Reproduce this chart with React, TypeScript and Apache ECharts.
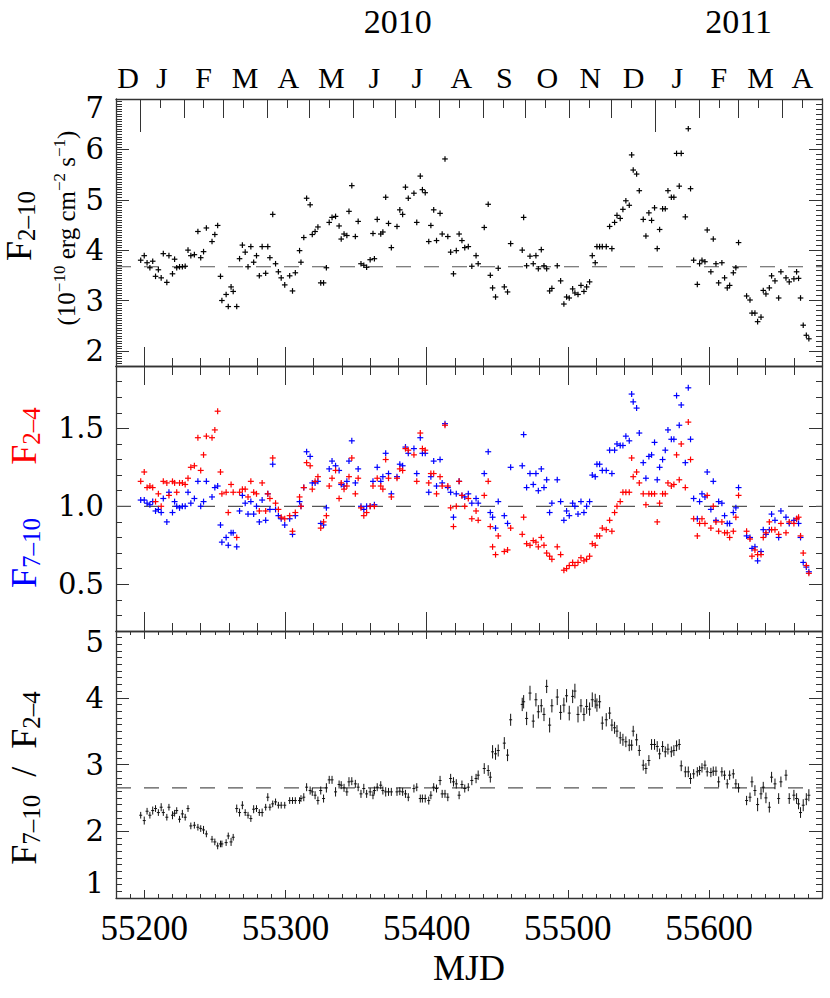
import React, { useEffect, useRef } from 'react';
import * as echarts from 'echarts';

// ---------------- data ----------------
const mjd = [
  55197.5, 55200, 55202, 55204, 55206, 55208, 55210, 55212, 55213.5, 55216,
  55217.5, 55220, 55221.5, 55223, 55225, 55227, 55229, 55231, 55233, 55235.5,
  55238, 55240, 55242, 55244, 55248, 55250, 55252, 55254, 55255, 55258,
  55259.5, 55261.5, 55263, 55265.5, 55267.5, 55269.5, 55271.5, 55273.5, 55275.5, 55277.5,
  55279.5, 55281.5, 55283.5, 55286, 55287.5, 55289, 55291, 55293, 55295, 55297,
  55299.5, 55303, 55305, 55307, 55310, 55311, 55313, 55315, 55317.5, 55319,
  55321, 55323, 55325, 55327, 55329, 55331, 55333, 55335.5, 55338, 55339.5,
  55341.5, 55343.5, 55345, 55347, 55349.5, 55351.5, 55353.5, 55355.5, 55357.5, 55360,
  55362, 55363, 55365, 55367.5, 55369, 55371, 55373, 55375, 55379, 55381,
  55383, 55385, 55387, 55391, 55393, 55395.5, 55397, 55399, 55401.5, 55403,
  55405, 55407, 55409.5, 55411, 55413, 55415, 55417, 55419, 55421, 55423,
  55425, 55427, 55429.5, 55432, 55435, 55436.5,
  55440.8, 55443.6, 55445.1, 55446.7, 55448.8, 55450.7, 55455, 55457.3, 55459.5, 55467.7,
  55468.7, 55470.8, 55473.2, 55475.5, 55477.4, 55479.1, 55481.2, 55483.1, 55485, 55487.1,
  55488.7, 55492.5, 55494.9, 55497.2, 55499.1, 55501, 55503.4, 55505, 55507.2, 55509.3,
  55511.4, 55513.3, 55515.4, 55517.3, 55519.4, 55520.6, 55522.5, 55524.4, 55527.2, 55529.6,
  55531.2, 55533.1, 55534.8, 55537.1, 55539, 55541.1, 55543.5, 55545.2, 55546.3, 55548.7,
  55550.6, 55553.4, 55555.3, 55557.4, 55559.3, 55561.4, 55563.3, 55565, 55567.1, 55569,
  55570.9, 55573.3, 55575.1, 55577, 55578.9, 55580.3, 55583.2, 55585.3, 55586.9, 55589.1,
  55591.7, 55593.3, 55595, 55597.1, 55598.7, 55601.3, 55603, 55604.9, 55606.8, 55609.1,
  55611, 55612.9, 55614.6, 55617.2, 55619, 55620.9, 55626.6, 55629, 55630.4, 55632.5,
  55634.4, 55636.8, 55638.4, 55640.3, 55642.7, 55644.3, 55646.7, 55649.3, 55650.9, 55654.5,
  55656.8, 55660.1, 55662, 55663.4, 55664.8, 55666.7, 55668.9, 55670.7,
];

// F(2-10 keV), 1e-10 erg cm^-2 s^-1
const flux210 = [
  3.80, 3.89, 3.75, 3.65, 3.78, 3.48, 3.61, 3.45, 3.93, 3.36,
  3.89, 3.53, 3.82, 3.65, 3.67, 3.67, 3.68, 4.00, 3.89, 3.91,
  4.37, 3.85, 3.97, 4.44, 4.17, 4.31, 4.49, 3.48, 3.00, 3.12,
  2.88, 3.27, 3.18, 2.88, 3.83, 4.10, 3.96, 3.67, 4.07, 3.76,
  3.89, 3.49, 4.07, 3.54, 4.07, 3.85, 4.71, 3.73, 3.57, 3.45,
  3.31, 3.49, 3.19, 3.55, 3.99, 3.76, 4.25, 5.03, 4.90, 4.31,
  4.37, 4.46, 3.35, 3.35, 3.65, 4.55, 4.65, 4.67, 4.48, 4.22,
  4.32, 4.29, 4.77, 5.28, 4.27, 4.57, 3.73, 3.70, 3.66, 3.81,
  4.33, 3.83, 4.61, 4.32, 4.36, 5.05, 4.53, 4.05, 4.47, 4.80,
  4.71, 5.25, 5.03, 5.13, 4.55, 5.47, 5.20, 5.14, 4.17, 4.49,
  4.80, 4.19, 4.73, 4.32, 5.81, 4.27, 3.96, 3.53, 3.99, 4.32,
  4.19, 4.05, 4.07, 3.68, 3.89, 3.73,
  4.45, 4.91, 3.50, 3.25, 3.07, 3.64, 3.27, 3.17, 4.13, 4.00,
  4.65, 3.69, 3.88, 3.73, 3.89, 3.63, 4.01, 3.69, 3.63, 3.19,
  3.24, 3.69, 3.39, 2.93, 3.07, 3.05, 3.23, 3.15, 3.12, 3.30,
  3.18, 3.27, 3.37, 3.89, 3.75, 4.07, 4.07, 4.07, 4.07, 4.47,
  4.03, 4.55, 4.69, 4.63, 4.81, 4.98, 4.89, 5.89, 5.59, 5.51,
  5.18, 4.61, 4.28, 4.74, 4.59, 4.84, 4.03, 4.41, 4.82, 4.82,
  5.18, 5.05, 5.05, 5.92, 5.27, 5.92, 4.66, 6.41, 5.22, 3.80,
  3.32, 3.73, 3.80, 3.77, 4.40, 3.57, 4.22, 3.73, 3.35, 3.75,
  3.45, 3.25, 3.30, 3.55, 3.65, 4.15, 3.09, 3.01, 2.75, 2.75,
  2.58, 2.67, 3.20, 3.13, 3.25, 3.49, 3.39, 3.05, 3.57, 3.45,
  3.37, 3.43, 3.57, 3.44, 3.05, 2.51, 2.31, 2.24,
];

// normalised F(2-4 keV) (red)
const flux24 = [
  1.16, 1.22, 1.12, 1.13, 1.12, 1.03, 1.08, 1.00, 1.16, 1.15,
  1.07, 1.16, 1.15, 1.09, 1.15, 1.15, 1.14, 1.18, 1.25, 1.26,
  1.44, 1.23, 1.33, 1.45, 1.44, 1.49, 1.61, 1.22, 1.08, 1.09,
  0.96, 1.14, 1.09, 0.80, 1.09, 1.11, 1.11, 1.06, 1.16, 1.09,
  1.08, 0.97, 1.15, 0.97, 1.08, 1.05, 1.31, 1.02, 0.98, 0.93,
  0.92, 0.94, 0.84, 0.96, 1.06, 1.00, 1.12, 1.28, 1.26, 1.11,
  1.16, 1.19, 0.86, 0.90, 0.94, 1.13, 1.18, 1.23, 1.05, 1.15,
  1.11, 1.13, 1.19, 1.31, 1.08, 1.18, 0.99, 0.94, 0.96, 1.00,
  1.13, 1.00, 1.18, 1.13, 1.11, 1.30, 1.18, 1.06, 1.18, 1.24,
  1.23, 1.37, 1.36, 1.33, 1.16, 1.47, 1.37, 1.36, 1.15, 1.21,
  1.21, 1.08, 1.19, 1.13, 1.52, 1.13, 0.99, 0.87, 1.00, 1.16,
  1.07, 1.00, 1.05, 0.92, 0.97, 0.91,
  1.07, 1.16, 0.87, 0.74, 0.69, 0.81, 0.71, 0.72, 0.86, 0.82,
  0.93, 0.76, 0.75, 0.78, 0.77, 0.74, 0.80, 0.75, 0.70, 0.68,
  0.66, 0.74, 0.69, 0.59, 0.60, 0.62, 0.64, 0.62, 0.64, 0.67,
  0.65, 0.66, 0.68, 0.76, 0.75, 0.81, 0.81, 0.86, 0.85, 0.91,
  0.84, 0.96, 1.00, 1.03, 1.09, 1.09, 1.09, 1.31, 1.19, 1.22,
  1.15, 1.08, 1.01, 1.08, 1.08, 1.08, 0.90, 1.02, 1.08, 1.08,
  1.15, 1.13, 1.14, 1.33, 1.17, 1.40, 1.12, 1.54, 1.30, 0.92,
  0.81, 0.89, 0.92, 0.89, 1.07, 0.86, 1.00, 0.90, 0.84, 0.90,
  0.83, 0.83, 0.80, 0.84, 0.93, 1.07, 0.84, 0.79, 0.68, 0.72,
  0.69, 0.69, 0.80, 0.83, 0.90, 0.85, 0.85, 0.82, 0.89, 0.83,
  0.90, 0.89, 0.92, 0.93, 0.81, 0.70, 0.62, 0.57,
];

// normalised F(7-10 keV) (blue)
const flux710 = [
  1.04, 1.04, 1.02, 1.01, 1.03, 0.97, 0.98, 0.96, 1.05, 0.90,
  1.09, 0.96, 1.03, 1.00, 0.99, 1.00, 1.00, 1.09, 1.02, 1.05,
  1.16, 1.00, 1.03, 1.16, 1.06, 1.12, 1.13, 0.88, 0.77, 0.80,
  0.75, 0.83, 0.83, 0.74, 0.97, 1.07, 1.02, 0.95, 1.03, 0.95,
  1.00, 0.90, 1.04, 0.91, 1.08, 0.98, 1.27, 0.98, 0.94, 0.92,
  0.88, 0.92, 0.82, 0.94, 1.03, 1.00, 1.12, 1.35, 1.32, 1.15,
  1.15, 1.16, 0.89, 0.88, 0.99, 1.24, 1.29, 1.26, 1.23, 1.14,
  1.13, 1.16, 1.29, 1.42, 1.15, 1.24, 1.00, 0.98, 1.00, 1.00,
  1.16, 1.01, 1.25, 1.16, 1.19, 1.34, 1.21, 1.08, 1.19, 1.27,
  1.26, 1.38, 1.34, 1.37, 1.21, 1.44, 1.34, 1.34, 1.09, 1.19,
  1.29, 1.13, 1.30, 1.15, 1.53, 1.12, 1.09, 0.93, 1.08, 1.16,
  1.07, 1.06, 1.08, 1.02, 1.05, 1.02,
  1.21, 1.35, 0.96, 0.93, 0.86, 1.03, 0.94, 0.89, 1.25, 1.26,
  1.46, 1.12, 1.21, 1.14, 1.21, 1.10, 1.24, 1.12, 1.17, 0.96,
  1.02, 1.17, 1.03, 0.91, 0.97, 0.94, 1.02, 1.00, 0.95, 1.03,
  0.96, 1.00, 1.03, 1.20, 1.19, 1.27, 1.27, 1.23, 1.23, 1.36,
  1.21, 1.36, 1.40, 1.39, 1.39, 1.45, 1.42, 1.72, 1.67, 1.63,
  1.47, 1.28, 1.18, 1.32, 1.33, 1.41, 1.17, 1.25, 1.30, 1.36,
  1.49, 1.43, 1.43, 1.71, 1.52, 1.65, 1.28, 1.76, 1.43, 1.05,
  0.92, 1.03, 1.08, 1.06, 1.22, 0.98, 1.16, 0.91, 1.03, 1.02,
  0.94, 0.89, 0.89, 0.96, 0.99, 1.12, 0.81, 0.80, 0.73, 0.74,
  0.65, 0.71, 0.85, 0.82, 0.85, 0.95, 0.91, 0.80, 0.97, 0.93,
  0.89, 0.91, 0.92, 0.89, 0.80, 0.64, 0.61, 0.58,
];

// hardness ratio F(7-10)/F(2-4)
const ratio = [
  2.24, 2.16, 2.30, 2.24, 2.31, 2.34, 2.28, 2.36, 2.28, 2.21,
  2.36, 2.24, 2.27, 2.31, 2.18, 2.26, 2.21, 2.34, 2.08, 2.09,
  2.06, 2.04, 2.02, 1.96, 1.88, 1.84, 1.78, 1.81, 1.81, 1.83,
  1.93, 1.84, 1.91, 2.34, 2.28, 2.39, 2.28, 2.24, 2.19, 2.33,
  2.34, 2.28, 2.28, 2.36, 2.51, 2.36, 2.41, 2.44, 2.39, 2.39,
  2.39, 2.46, 2.46, 2.46, 2.46, 2.49, 2.51, 2.66, 2.61, 2.59,
  2.54, 2.46, 2.61, 2.49, 2.65, 2.77, 2.77, 2.59, 2.70, 2.69,
  2.65, 2.59, 2.74, 2.75, 2.71, 2.66, 2.56, 2.64, 2.56, 2.59,
  2.54, 2.61, 2.66, 2.69, 2.61, 2.59, 2.59, 2.59, 2.59, 2.60,
  2.59, 2.56, 2.51, 2.64, 2.66, 2.49, 2.49, 2.49, 2.46, 2.54,
  2.66, 2.64, 2.76, 2.56, 2.56, 2.51, 2.79, 2.74, 2.71, 2.54,
  2.70, 2.64, 2.66, 2.76, 2.79, 2.84,
  2.94, 2.91, 2.81, 3.19, 3.16, 3.21, 3.32, 3.14, 3.67, 3.90,
  3.94, 3.69, 4.07, 3.65, 3.97, 3.79, 3.88, 3.75, 4.17, 3.59,
  3.88, 4.01, 3.78, 3.89, 4.03, 3.77, 4.02, 4.10, 3.75, 3.88,
  3.75, 3.87, 3.83, 3.97, 3.95, 3.89, 3.94, 3.62, 3.67, 3.77,
  3.59, 3.55, 3.50, 3.40, 3.37, 3.34, 3.29, 3.29, 3.50, 3.37,
  3.21, 2.99, 2.94, 3.06, 3.30, 3.30, 3.27, 3.16, 3.27, 3.19,
  3.23, 3.19, 3.21, 3.28, 3.30, 2.98, 2.89, 2.89, 2.79, 2.86,
  2.89, 2.91, 2.95, 2.99, 2.89, 2.88, 2.90, 2.90, 2.74, 2.89,
  2.84, 2.71, 2.84, 2.86, 2.71, 2.65, 2.46, 2.51, 2.74, 2.61,
  2.40, 2.56, 2.66, 2.50, 2.36, 2.81, 2.71, 2.49, 2.74, 2.84,
  2.49, 2.54, 2.49, 2.41, 2.28, 2.39, 2.48, 2.54,
];

// half-length of the ratio error bars
const ratioErr = [
  0.05, 0.06, 0.05, 0.05, 0.06, 0.05, 0.05, 0.06, 0.05, 0.05,
  0.05, 0.06, 0.05, 0.05, 0.05, 0.06, 0.05, 0.05, 0.05, 0.05,
  0.05, 0.05, 0.06, 0.05, 0.05, 0.05, 0.05, 0.05, 0.05, 0.05,
  0.05, 0.06, 0.05, 0.06, 0.06, 0.06, 0.05, 0.05, 0.05, 0.06,
  0.05, 0.05, 0.06, 0.05, 0.06, 0.05, 0.05, 0.05, 0.05, 0.05,
  0.05, 0.05, 0.05, 0.05, 0.05, 0.05, 0.06, 0.06, 0.06, 0.06,
  0.06, 0.06, 0.06, 0.06, 0.07, 0.06, 0.06, 0.07, 0.06, 0.06,
  0.06, 0.06, 0.07, 0.06, 0.06, 0.06, 0.06, 0.07, 0.06, 0.06,
  0.06, 0.06, 0.06, 0.06, 0.06, 0.07, 0.06, 0.06, 0.06, 0.06,
  0.06, 0.06, 0.06, 0.06, 0.06, 0.06, 0.06, 0.06, 0.06, 0.06,
  0.06, 0.06, 0.07, 0.06, 0.06, 0.06, 0.07, 0.07, 0.07, 0.06,
  0.06, 0.06, 0.06, 0.07, 0.07, 0.07,
  0.08, 0.08, 0.08, 0.10, 0.09, 0.09, 0.09, 0.09, 0.09, 0.10,
  0.10, 0.10, 0.11, 0.10, 0.10, 0.10, 0.10, 0.10, 0.10, 0.11,
  0.10, 0.12, 0.11, 0.11, 0.10, 0.11, 0.10, 0.11, 0.12, 0.10,
  0.10, 0.11, 0.10, 0.11, 0.11, 0.10, 0.10, 0.10, 0.10, 0.09,
  0.09, 0.09, 0.09, 0.09, 0.09, 0.08, 0.09, 0.08, 0.08, 0.09,
  0.08, 0.08, 0.08, 0.08, 0.08, 0.08, 0.08, 0.08, 0.08, 0.08,
  0.08, 0.08, 0.08, 0.08, 0.08, 0.08, 0.08, 0.08, 0.08, 0.07,
  0.07, 0.07, 0.07, 0.07, 0.07, 0.07, 0.07, 0.07, 0.08, 0.07,
  0.07, 0.07, 0.07, 0.07, 0.07, 0.07, 0.07, 0.07, 0.08, 0.08,
  0.10, 0.08, 0.08, 0.08, 0.08, 0.08, 0.08, 0.08, 0.08, 0.08,
  0.08, 0.08, 0.08, 0.08, 0.08, 0.09, 0.09, 0.09,
];

// reference (mean) levels, dashed
const F210_MEAN = 3.67;
const FNORM_MEAN = 1.0;
const RATIO_MEAN = 2.65;

// axes
const X_MIN = 55180;
const X_MAX = 55680;
const mjdTicks = [55200, 55300, 55400, 55500, 55600];
const f210Ticks = [2, 3, 4, 5, 6, 7];
const fNormTicks = [0.5, 1.0, 1.5];
const ratioTicks = [1, 2, 3, 4, 5];
const Y1 = [1.7, 7];
const Y2 = [0.2, 1.9];
const Y3 = [1, 5];

// calendar (MJD of 1st of month, Dec 2009 .. May 2011)
const monthStarts = [55166, 55197, 55228, 55256, 55287, 55317, 55348, 55378, 55409, 55440,
  55470, 55501, 55531, 55562, 55593, 55621, 55652, 55682];
const monthLetters = ['D', 'J', 'F', 'M', 'A', 'M', 'J', 'J', 'A', 'S', 'O', 'N', 'D', 'J', 'F', 'M', 'A'];
const yearStarts = [55197, 55562, 55927];
const yearLabels = ['2010', '2011'];

// ---------------- helpers ----------------
const AX = '#333';
const SERIF = 'Liberation Serif';
const TICKFONT = 'DejaVu Serif';

function steps(a: number, b: number, step: number) {
  const out: number[] = [];
  for (let k = Math.ceil(a / step - 1e-9); k * step <= b + 1e-9; k++) out.push(+(k * step).toFixed(4));
  return out;
}
const inRange = (v: number) => v > X_MIN && v < X_MAX;

const monthCenters = monthLetters.map((_, i) => {
  const a = Math.max(monthStarts[i], X_MIN);
  const b = Math.min(monthStarts[i + 1], X_MAX);
  return (a + b) / 2;
});
const yearCenters = yearLabels.map((_, i) => {
  const a = Math.max(yearStarts[i], X_MIN);
  const b = Math.min(yearStarts[i + 1], X_MAX);
  return (a + b) / 2;
});

function plus(color: string, h: number) {
  return (params: any, api: any) => {
    const p = api.coord([api.value(0), api.value(1)]);
    return {
      type: 'group',
      children: [
        { type: 'line', shape: { x1: p[0] - h, y1: p[1], x2: p[0] + h, y2: p[1] }, style: { stroke: color, lineWidth: 1.2 } },
        { type: 'line', shape: { x1: p[0], y1: p[1] - h, x2: p[0], y2: p[1] + h }, style: { stroke: color, lineWidth: 1.2 } },
      ],
    };
  };
}

function errBar(params: any, api: any) {
  const x = api.value(0);
  const p = api.coord([x, api.value(1)]);
  const lo = api.coord([x, api.value(2)]);
  const hi = api.coord([x, api.value(3)]);
  return {
    type: 'group',
    children: [
      { type: 'line', shape: { x1: p[0], y1: lo[1], x2: p[0], y2: hi[1] }, style: { stroke: '#111', lineWidth: 1 } },
      { type: 'line', shape: { x1: p[0] - 1.5, y1: p[1], x2: p[0] + 1.5, y2: p[1] }, style: { stroke: '#111', lineWidth: 1 } },
    ],
  };
}

function buildOption() {
  const xAxis: any[] = [];
  const yAxis: any[] = [];

  const xAx = (grid: number, pos: string, ticks: number[], len: number, line = false, label: any = null) => {
    xAxis.push({
      type: 'value', gridIndex: grid, position: pos, min: X_MIN, max: X_MAX,
      axisLine: { show: line, onZero: false, lineStyle: { color: AX, width: 1.3 } },
      axisTick: { show: true, inside: true, length: len, customValues: ticks, lineStyle: { color: AX, width: 1 } },
      axisLabel: label ? { show: true, color: '#000', ...label } : { show: false },
      splitLine: { show: false },
    });
    return xAxis.length - 1;
  };
  const yAx = (grid: number, pos: string, rng: number[], ticks: number[], len: number, line = false, label: any = null) => {
    yAxis.push({
      type: 'value', gridIndex: grid, position: pos, min: rng[0], max: rng[1],
      axisLine: { show: line, onZero: false, lineStyle: { color: AX, width: 1.3 } },
      axisTick: { show: true, inside: true, length: len, customValues: ticks, lineStyle: { color: AX, width: 1 } },
      axisLabel: label ? { show: true, color: '#000', ...label } : { show: false },
      splitLine: { show: false },
    });
    return yAxis.length - 1;
  };

  const minor20 = steps(X_MIN, X_MAX, 20).filter(inRange);
  const minor10 = steps(X_MIN, X_MAX, 10).filter(inRange);
  const monthTicks = monthStarts.filter(inRange);
  const midMonthTicks = monthStarts.map((s) => s + 14).filter(inRange);
  const yearTicks = yearStarts.filter(inRange);

  const yLabelBase = { fontFamily: TICKFONT, fontSize: 29, margin: 12 };

  // ----- grid 0 : F 2-10
  const gx0 = xAx(0, 'bottom', mjdTicks, 19, true);
  xAx(0, 'bottom', minor20, 8);
  xAx(0, 'top', yearTicks, 33, true, {
    customValues: yearCenters, margin: 61, fontFamily: SERIF, fontSize: 34,
    formatter: (v: number) => { const i = yearCenters.findIndex((c) => Math.abs(c - v) < 0.01); return i >= 0 ? yearLabels[i] : ''; },
  });
  xAx(0, 'top', monthTicks, 19, false, {
    customValues: monthCenters, margin: 7, fontFamily: SERIF, fontSize: 30,
    formatter: (v: number) => { const i = monthCenters.findIndex((c) => Math.abs(c - v) < 0.01); return i >= 0 ? monthLetters[i] : ''; },
  });
  xAx(0, 'top', midMonthTicks, 9);
  const gy0 = yAx(0, 'left', Y1, f210Ticks, 13, true, {
    ...yLabelBase, customValues: f210Ticks,
    formatter: (v: number) => (v === Y1[1] ? `{dn|${v}}` : String(v)),
    rich: { dn: { fontFamily: TICKFONT, fontSize: 29, padding: [18, 0, 0, 0] } },
  });
  yAx(0, 'left', Y1, steps(Y1[0], Y1[1], 0.05), 6);
  yAx(0, 'right', Y1, f210Ticks, 13, true);
  yAx(0, 'right', Y1, steps(Y1[0], Y1[1], 0.1), 6);

  // ----- grid 1 : normalised fluxes
  const gx1 = xAx(1, 'bottom', mjdTicks, 19, true);
  xAx(1, 'bottom', minor20, 8);
  xAx(1, 'top', mjdTicks, 19, true);
  xAx(1, 'top', minor20, 9);
  const gy1 = yAx(1, 'left', Y2, fNormTicks, 13, true, {
    ...yLabelBase, customValues: fNormTicks, formatter: (v: number) => v.toFixed(1),
  });
  yAx(1, 'left', Y2, steps(Y2[0], Y2[1], 0.1), 6);
  yAx(1, 'right', Y2, fNormTicks, 13, true);
  yAx(1, 'right', Y2, steps(Y2[0], Y2[1], 0.1), 6);

  // ----- grid 2 : ratio
  const gx2 = xAx(2, 'bottom', mjdTicks, 8, true, {
    customValues: mjdTicks, margin: 13, fontFamily: SERIF, fontSize: 35,
    formatter: (v: number) => String(Math.round(v)),
  });
  xAx(2, 'bottom', minor10, 4);
  xAx(2, 'top', mjdTicks, 8, true);
  xAx(2, 'top', minor10, 4);
  const gy2 = yAx(2, 'left', Y3, ratioTicks, 13, true, {
    ...yLabelBase, customValues: ratioTicks,
    formatter: (v: number) => (v === Y3[1] ? `{dn|${v}}` : v === Y3[0] ? `{up|${v}}` : String(v)),
    rich: {
      dn: { fontFamily: TICKFONT, fontSize: 29, padding: [22, 0, 0, 0] },
      up: { fontFamily: TICKFONT, fontSize: 29, padding: [0, 0, 30, 0] },
    },
  });
  yAx(2, 'left', Y3, steps(Y3[0], Y3[1], 0.1), 6);
  yAx(2, 'right', Y3, ratioTicks, 13, true);
  yAx(2, 'right', Y3, steps(Y3[0], Y3[1], 0.1), 6);

  const dashed = (xi: number, yi: number, level: number) => ({
    type: 'line', xAxisIndex: xi, yAxisIndex: yi, silent: true, symbol: 'none', z: 1,
    data: [[X_MIN, level], [X_MAX, level]],
    lineStyle: { color: '#555', width: 1.2, type: [15, 13] },
  });

  const subRich = (color: string) => ({
    F: { fontFamily: SERIF, fontSize: 36, lineHeight: 40, fill: color },
    s: { fontFamily: SERIF, fontSize: 25, lineHeight: 24, verticalAlign: 'bottom', fill: color },
  });

  return {
    animation: false,
    backgroundColor: '#ffffff',
    textStyle: { fontFamily: SERIF },
    grid: [
      { left: 116, top: 99, width: 706, height: 267, containLabel: false, outerBoundsMode: 'none' },
      { left: 116, top: 366, width: 706, height: 265, containLabel: false, outerBoundsMode: 'none' },
      { left: 116, top: 631, width: 706, height: 267, containLabel: false, outerBoundsMode: 'none' },
    ],
    xAxis,
    yAxis,
    series: [
      dashed(gx0, gy0, F210_MEAN),
      dashed(gx1, gy1, FNORM_MEAN),
      dashed(gx2, gy2, RATIO_MEAN),
      {
        type: 'custom', xAxisIndex: gx0, yAxisIndex: gy0, z: 3, encode: { x: 0, y: 1 },
        data: mjd.map((m, i) => [m, flux210[i]]), renderItem: plus('#000', 2.8),
      },
      {
        type: 'custom', xAxisIndex: gx1, yAxisIndex: gy1, z: 3, encode: { x: 0, y: 1 },
        data: mjd.map((m, i) => [m, flux710[i]]), renderItem: plus('#0000ff', 3),
      },
      {
        type: 'custom', xAxisIndex: gx1, yAxisIndex: gy1, z: 4, encode: { x: 0, y: 1 },
        data: mjd.map((m, i) => [m, flux24[i]]), renderItem: plus('#ff0000', 3),
      },
      {
        type: 'custom', xAxisIndex: gx2, yAxisIndex: gy2, z: 3, encode: { x: 0, y: [2, 3] },
        data: mjd.map((m, i) => [m, ratio[i], ratio[i] - ratioErr[i], ratio[i] + ratioErr[i]]),
        renderItem: errBar,
      },
    ],
    graphic: [
      {
        type: 'text', x: 19, y: 226, rotation: Math.PI / 2,
        style: { text: '{F|F}{s|2–10}', rich: subRich('#000'), align: 'center', verticalAlign: 'middle' },
      },
      {
        type: 'text', x: 66, y: 228, rotation: Math.PI / 2,
        style: {
          text: '(10{p|−10} erg cm{p|−2} s{p|−1})',
          fontFamily: SERIF, fontSize: 25, lineHeight: 30, fill: '#000',
          rich: { p: { fontFamily: SERIF, fontSize: 17, lineHeight: 17, verticalAlign: 'top', fill: '#000' } },
          align: 'center', verticalAlign: 'middle',
        },
      },
      {
        type: 'text', x: 24, y: 436, rotation: Math.PI / 2,
        style: { text: '{F|F}{s|2–4}', rich: subRich('#ff0000'), align: 'center', verticalAlign: 'middle' },
      },
      {
        type: 'text', x: 24, y: 553, rotation: Math.PI / 2,
        style: { text: '{F|F}{s|7–10}', rich: subRich('#0000ff'), align: 'center', verticalAlign: 'middle' },
      },
      {
        type: 'text', x: 24, y: 778, rotation: Math.PI / 2,
        style: { text: '{F|F}{s|7–10}{F|  /  F}{s|2–4}', rich: subRich('#000'), align: 'center', verticalAlign: 'middle' },
      },
      {
        type: 'text', x: 469, y: 968,
        style: { text: 'MJD', fontFamily: SERIF, fontSize: 36, fill: '#000', align: 'center', verticalAlign: 'middle' },
      },
    ],
  };
}

export default function App() {
  const ref = useRef<HTMLDivElement>(null);
  useEffect(() => {
    if (!ref.current) return;
    const chart = echarts.init(ref.current, null, { renderer: 'svg' });
    chart.setOption(buildOption() as any);
    return () => chart.dispose();
  }, []);
  return (
    <div
      ref={ref}
      style={{ position: 'fixed', left: 0, top: 0, width: 830, height: 998, background: '#fff' }}
    />
  );
}
